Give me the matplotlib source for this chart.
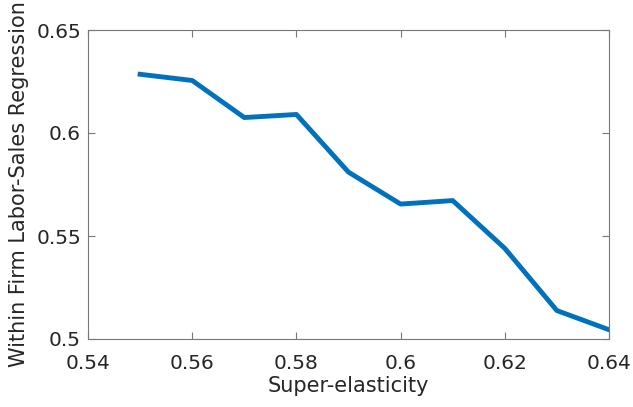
import numpy as np
import matplotlib
matplotlib.use("Agg")
import matplotlib.pyplot as plt

super_elasticity = [0.55, 0.56, 0.57, 0.58, 0.59, 0.60, 0.61, 0.62, 0.63, 0.64]
regression = [0.6285, 0.6255, 0.6075, 0.6090, 0.5810, 0.5655, 0.5672, 0.5440, 0.5138, 0.5045]

xticks = [0.54, 0.56, 0.58, 0.6, 0.62, 0.64]
xtick_labels = ["0.54", "0.56", "0.58", "0.6", "0.62", "0.64"]
yticks = [0.5, 0.55, 0.6, 0.65]
ytick_labels = ["0.5", "0.55", "0.6", "0.65"]

fig = plt.figure(figsize=(6.33, 4.07), dpi=100)
ax = fig.add_axes([88 / 633, 1 - 339 / 407, (609 - 88) / 633, (339 - 30) / 407])

ax.plot(super_elasticity, regression, color="#0072BD", linewidth=3.5)

ax.set_xlim(0.54, 0.64)
ax.set_ylim(0.5, 0.65)
ax.set_xticks(xticks)
ax.set_xticklabels(xtick_labels)
ax.set_yticks(yticks)
ax.set_yticklabels(ytick_labels)
ax.tick_params(direction="in", labelsize=14.5, top=True, right=True, length=5,
               color="#777777", labelcolor="#262626")
ax.tick_params(axis="x", pad=11)
ax.tick_params(axis="y", pad=5)
for s in ax.spines.values():
    s.set_color("#777777")
    s.set_linewidth(0.8)

ax.set_xlabel("Super-elasticity", fontsize=15, color="#262626", labelpad=2)
ax.set_ylabel("Within Firm Labor-Sales Regression", fontsize=15, color="#262626", labelpad=5)

fig.savefig("out.png", dpi=100)
